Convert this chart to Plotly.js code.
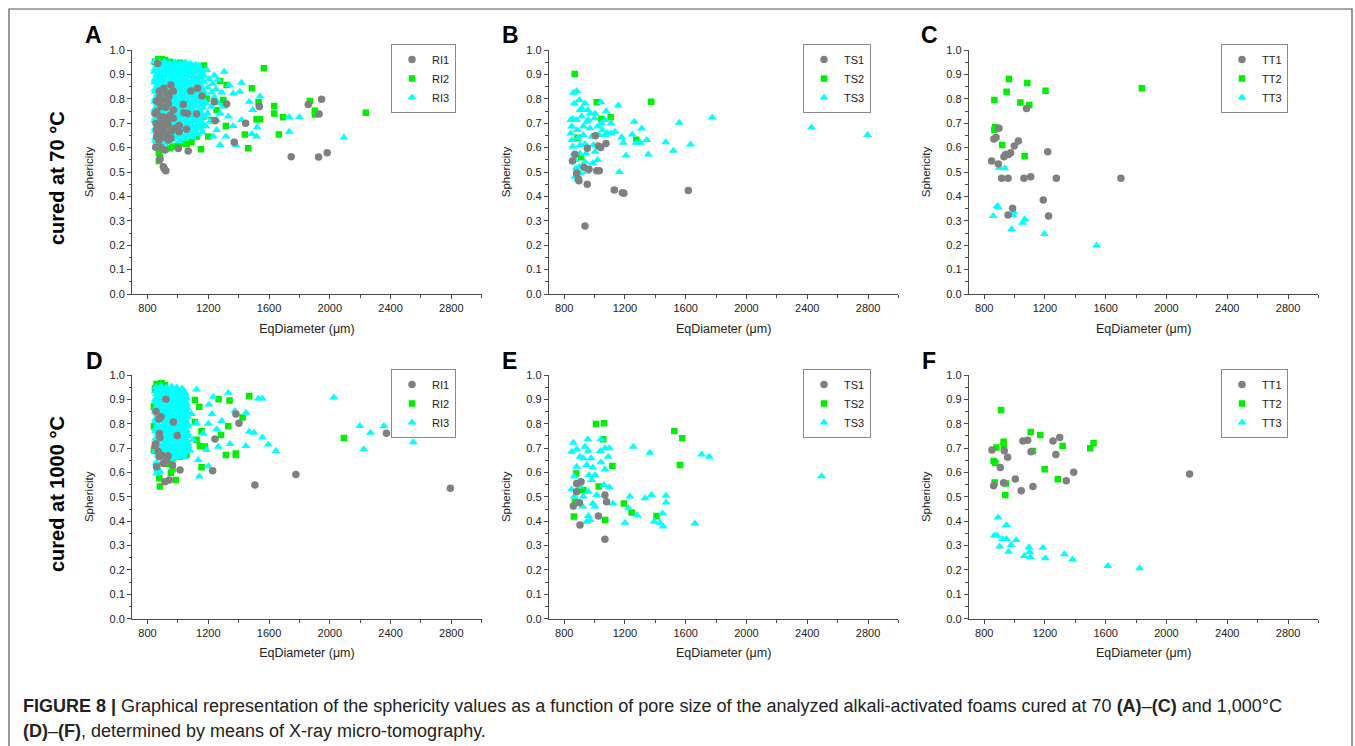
<!DOCTYPE html>
<html>
<head>
<meta charset="utf-8">
<script src="https://cdn.plot.ly/plotly-3.0.1.min.js"></script>
<style>
html,body{margin:0;padding:0;background:#fff;}
#chart{width:1355px;height:746px;}
</style>
</head>
<body>
<div id="chart"></div>
<script>
// ---------- DATA (EqDiameter µm, Sphericity) ----------
// Panel A: RI, cured at 70 °C
const A_RI1 = [[867,0.945],[954,0.857],[970,0.832],[908,0.843],[1086,0.832],[1130,0.843],[1158,0.811],[1036,0.777],[1239,0.788],[1321,0.779],[1536,0.768],[1858,0.777],[1946,0.798],[1930,0.738],[1446,0.700],[1246,0.710],[1123,0.738],[1064,0.740],[1040,0.743],[1009,0.691],[1057,0.675],[1009,0.665],[1003,0.596],[1068,0.586],[1371,0.622],[1746,0.563],[1926,0.561],[1983,0.579],
  [860,0.790],[882,0.809],[878,0.832],[904,0.795],[926,0.825],[941,0.809],[889,0.768],[921,0.765],[937,0.781],[860,0.747],[882,0.727],[908,0.724],[930,0.713],[970,0.754],[856,0.699],[882,0.689],[915,0.686],[937,0.693],[860,0.672],[893,0.661],[926,0.658],[954,0.638],[860,0.645],[904,0.642],[937,0.631],[854,0.601],[886,0.601],[915,0.590],[882,0.552],[904,0.522],[921,0.505],[911,0.512],[864,0.652],[849,0.740],[952,0.734],[970,0.720],[985,0.680],[960,0.668],[897,0.708],[918,0.700],[875,0.630]];
const A_RI2 = [[1566,0.925],[1487,0.843],[1531,0.786],[1634,0.770],[1634,0.740],[1693,0.724],[1869,0.791],[1902,0.751],[1902,0.736],[2237,0.743],[1540,0.716],[1518,0.716],[1441,0.654],[1665,0.654],[1463,0.597],[1316,0.689],[1152,0.593],[1171,0.936],[1277,0.873],[1189,0.801],[1200,0.645],
  [965,0.604],[948,0.597],[992,0.607],[1025,0.617],[1057,0.615],[1090,0.624],[1003,0.652],[1040,0.631],[1123,0.645],[875,0.579],[875,0.545],[882,0.563],[860,0.617],[904,0.628],
  [871,0.962],[893,0.963],[915,0.959],[948,0.952],[981,0.945],[1014,0.948],[849,0.952],[1255,0.754],[1222,0.713],[1299,0.795],[1167,0.727],[1321,0.857],[1145,0.686]];
const A_RI3 = [
  [845,0.952],[878,0.948],[912,0.953],[946,0.947],[980,0.951],[1015,0.945],[1048,0.949],[1082,0.944],[1118,0.940],
  [862,0.941],[895,0.938],[929,0.943],[963,0.937],[997,0.942],[1032,0.936],[1065,0.940],[1100,0.935],[1135,0.938],
  [860,0.932],[893,0.927],[928,0.934],[963,0.929],[998,0.931],[1033,0.926],[1066,0.930],[1100,0.924],[1138,0.928],[1190,0.918],
  [848,0.921],[878,0.918],[912,0.923],[946,0.917],[981,0.922],[1016,0.916],[1050,0.921],[1084,0.915],[1120,0.919],[1155,0.914],
  [846,0.911],[877,0.907],[911,0.913],[947,0.905],[981,0.910],[1016,0.906],[1050,0.912],[1088,0.904],[1122,0.909],[1158,0.902],[1240,0.896],
  [862,0.899],[895,0.896],[929,0.901],[963,0.895],[998,0.900],[1034,0.894],[1069,0.899],[1104,0.893],[1140,0.897],[1175,0.892],
  [862,0.889],[895,0.886],[930,0.892],[965,0.884],[1000,0.890],[1036,0.885],[1070,0.891],[1106,0.883],[1143,0.888],[1205,0.881],[1262,0.878],
  [848,0.879],[880,0.876],[914,0.881],[948,0.875],[983,0.880],[1018,0.874],[1053,0.879],[1089,0.873],[1126,0.877],[1165,0.872],
  [847,0.868],[880,0.872],[914,0.866],[949,0.871],[984,0.865],[1019,0.870],[1054,0.864],[1091,0.869],[1127,0.863],[1164,0.868],[1228,0.861],
  [864,0.859],[897,0.856],[931,0.861],[966,0.855],[1001,0.860],[1037,0.854],[1072,0.859],[1109,0.853],[1146,0.857],
  [864,0.848],[898,0.852],[932,0.846],[967,0.851],[1002,0.845],[1039,0.850],[1074,0.844],[1111,0.849],[1149,0.843],[1196,0.846],[1250,0.840],
  [849,0.839],[882,0.836],[916,0.841],[951,0.835],[986,0.840],[1021,0.834],[1057,0.839],[1093,0.833],[1130,0.837],[1168,0.832],
  [849,0.829],[882,0.826],[917,0.832],[952,0.825],[987,0.830],[1022,0.824],[1057,0.829],[1094,0.823],[1131,0.828],[1170,0.822],[1222,0.826],[1288,0.826],
  [866,0.819],[899,0.816],[933,0.821],[968,0.815],[1003,0.820],[1040,0.814],[1076,0.819],[1114,0.813],[1152,0.817],
  [866,0.809],[900,0.805],[934,0.811],[969,0.804],[1005,0.810],[1041,0.803],[1079,0.808],[1117,0.802],[1154,0.807],[1240,0.805],
  [850,0.799],[884,0.796],[918,0.801],[953,0.795],[989,0.800],[1024,0.794],[1060,0.799],[1097,0.793],[1136,0.797],[1175,0.792],
  [848,0.789],[883,0.786],[919,0.791],[954,0.785],[990,0.790],[1025,0.784],[1061,0.789],[1099,0.783],[1137,0.788],[1182,0.782],[1268,0.781],
  [866,0.779],[900,0.776],[935,0.781],[970,0.775],[1006,0.780],[1042,0.774],[1080,0.779],[1118,0.773],[1156,0.777],
  [867,0.768],[902,0.772],[937,0.766],[972,0.771],[1008,0.765],[1044,0.770],[1081,0.764],[1120,0.769],[1165,0.763],[1220,0.767],
  [849,0.759],[884,0.756],[919,0.761],[954,0.755],[990,0.760],[1026,0.754],[1063,0.759],[1101,0.753],[1140,0.757],
  [850,0.749],[885,0.745],[920,0.751],[955,0.744],[991,0.750],[1027,0.743],[1064,0.748],[1102,0.742],[1141,0.747],[1195,0.741],[1279,0.740],
  [866,0.739],[901,0.736],[936,0.741],[972,0.735],[1008,0.740],[1045,0.734],[1083,0.739],[1122,0.733],[1160,0.737],
  [865,0.729],[900,0.726],[936,0.731],[971,0.725],[1009,0.730],[1045,0.724],[1084,0.729],[1123,0.723],[1175,0.727],
  [849,0.719],[884,0.716],[919,0.721],[954,0.715],[990,0.720],[1027,0.714],[1065,0.719],[1104,0.713],[1144,0.717],
  [848,0.709],[883,0.712],[918,0.706],[953,0.711],[989,0.705],[1026,0.710],[1063,0.704],[1103,0.709],[1145,0.703],[1212,0.707],
  [866,0.699],[900,0.696],[936,0.701],[971,0.695],[1008,0.700],[1045,0.694],[1084,0.699],[1126,0.693],[1166,0.697],
  [864,0.689],[898,0.686],[934,0.691],[969,0.685],[1007,0.690],[1044,0.684],[1083,0.689],[1124,0.683],[1185,0.687],
  [850,0.679],[884,0.676],[920,0.681],[955,0.675],[992,0.680],[1030,0.674],[1068,0.679],[1108,0.673],[1150,0.677],
  [850,0.669],[884,0.672],[920,0.666],[956,0.671],[992,0.665],[1030,0.670],[1068,0.664],[1109,0.669],[1160,0.663],
  [866,0.659],[901,0.656],[937,0.661],[974,0.655],[1012,0.660],[1052,0.654],[1092,0.659],[1130,0.655],
  [866,0.649],[901,0.652],[938,0.646],[975,0.651],[1014,0.645],[1055,0.650],[1097,0.644],
  [852,0.639],[888,0.636],[925,0.641],[963,0.635],[1003,0.640],[1040,0.636],
  [852,0.629],[888,0.633],[925,0.627],[964,0.632],[1009,0.626],[870,0.621],[910,0.618],[945,0.622],[859,0.611],[899,0.607],
  [1305,0.911],[1419,0.866],[1408,0.829],[1470,0.788],[1492,0.754],[1364,0.689],[1316,0.645],[1277,0.611],[1382,0.611],[1487,0.656],[1522,0.683],[1540,0.809],[1733,0.724],[1799,0.724],[1733,0.665],[2093,0.641],[1338,0.857],[1364,0.822],[1299,0.768],[1255,0.713],[1332,0.727],[1255,0.672],[1233,0.645],[1419,0.713],[1518,0.645]];

// Panel B: TS, cured at 70 °C
const B_TS1 = [[854,0.545],[871,0.572],[882,0.495],[893,0.471],[897,0.464],[937,0.279],[952,0.597],[930,0.519],[963,0.511],[952,0.450],[1005,0.649],[1025,0.607],[1040,0.600],[1075,0.617],[1014,0.505],[1031,0.505],[1130,0.426],[1183,0.415],[1193,0.413],[1617,0.424]];
const B_TS2 = [[869,0.902],[1014,0.786],[1044,0.717],[1106,0.724],[1275,0.632],[1373,0.788],[888,0.640],[912,0.560]];
const B_TS3 = [[860,0.825],[882,0.832],[856,0.717],[937,0.781],[955,0.754],[1042,0.786],[1075,0.749],[1156,0.773],[999,0.720],[1068,0.713],[1108,0.699],[1134,0.665],[1178,0.642],[1189,0.620],[1207,0.568],[1163,0.500],[1261,0.706],[1310,0.678],[1248,0.654],[1272,0.620],[1303,0.620],[1343,0.631],[1354,0.572],[1468,0.622],[1518,0.587],[1557,0.702],[1632,0.613],[1775,0.723],[2428,0.682],[2797,0.652],
  [843,0.713],[850,0.686],[843,0.658],[850,0.631],[856,0.604],[864,0.576],[871,0.549],[878,0.515],[871,0.481],[882,0.713],[886,0.672],[893,0.638],[904,0.611],[904,0.576],[900,0.522],[904,0.495],[915,0.727],[926,0.686],[926,0.652],[937,0.615],[944,0.576],[937,0.542],[948,0.501],[959,0.713],[970,0.679],[981,0.645],[992,0.611],[1003,0.583],[988,0.536],[1020,0.549],[1020,0.686],[1031,0.652],[1053,0.672],[1068,0.652],[1108,0.658],[1003,0.740],[904,0.754],[900,0.795],[970,0.740],[948,0.706],[867,0.781],[915,0.760],[890,0.470],[1085,0.660],[1045,0.700]];

// Panel C: TT, cured at 70 °C
const C_TT1 = [[849,0.545],[864,0.635],[878,0.641],[893,0.533],[897,0.679],[915,0.474],[930,0.563],[941,0.572],[959,0.572],[974,0.579],[998,0.607],[1025,0.627],[957,0.474],[957,0.324],[987,0.351],[1062,0.474],[1106,0.481],[1079,0.760],[1189,0.385],[1218,0.583],[1224,0.320],[1275,0.474],[1700,0.474]];
const C_TT2 = [[867,0.795],[871,0.683],[867,0.672],[919,0.611],[948,0.829],[963,0.881],[1038,0.785],[1084,0.865],[1097,0.775],[1066,0.566],[1204,0.833],[1838,0.843]];
const C_TT3 = [[860,0.320],[886,0.361],[892,0.356],[900,0.516],[935,0.515],[981,0.265],[996,0.335],[987,0.324],[1053,0.292],[1066,0.306],[1196,0.246],[1540,0.199]];

// Panel D: RI, cured at 1000 °C
const D_RI1 = [[921,0.900],[856,0.850],[875,0.819],[889,0.829],[970,0.807],[996,0.752],[878,0.760],[882,0.744],[854,0.717],[849,0.709],[878,0.665],[893,0.672],[937,0.669],[965,0.631],[904,0.637],[860,0.624],[1014,0.610],[1229,0.607],[1244,0.737],[1382,0.840],[1402,0.802],[1507,0.549],[1777,0.592],[2373,0.761],[2794,0.535],[915,0.562],[943,0.569],[871,0.686],[926,0.651]];
const D_RI2 = [[882,0.542],[878,0.576],[987,0.569],[954,0.599],[965,0.613],[937,0.635],[860,0.631],[867,0.607],[1112,0.807],[1268,0.900],[1340,0.895],[1470,0.914],[1426,0.826],[1332,0.790],[1284,0.754],[1316,0.672],[1382,0.672],[1382,0.678],[1123,0.734],[1145,0.709],[1178,0.707],[1156,0.769],[1156,0.621],[2093,0.741],[1141,0.870],[1112,0.897],
  [860,0.963],[893,0.966],[915,0.959],[849,0.945],[842,0.870],[842,0.790],[842,0.690],[970,0.658],[1014,0.665],[1057,0.672]];
const D_RI3 = [
  [858,0.951],[890,0.955],[924,0.949],[958,0.953],[992,0.948],[1024,0.944],
  [868,0.941],[900,0.944],[934,0.938],[968,0.943],[1002,0.937],[1034,0.940],
  [850,0.931],[874,0.928],[907,0.934],[941,0.927],[975,0.932],[1009,0.926],[1040,0.930],
  [858,0.921],[890,0.918],[924,0.923],[958,0.917],[992,0.922],[1026,0.916],[1052,0.920],
  [862,0.909],[895,0.913],[929,0.906],[963,0.911],[997,0.905],[1031,0.910],[1058,0.904],
  [852,0.899],[878,0.902],[912,0.896],[946,0.901],[980,0.895],[1014,0.900],[1046,0.894],
  [851,0.889],[880,0.886],[914,0.892],[948,0.885],[982,0.890],[1016,0.884],[1047,0.889],
  [865,0.879],[897,0.876],[931,0.881],[965,0.875],[999,0.880],[1033,0.874],[1060,0.879],
  [866,0.868],[899,0.872],[933,0.866],[967,0.871],[1001,0.865],[1035,0.870],[1062,0.864],
  [851,0.859],[882,0.862],[916,0.856],[950,0.861],[984,0.855],[1018,0.860],[1050,0.854],
  [852,0.849],[884,0.846],[918,0.851],[952,0.845],[986,0.850],[1020,0.844],[1052,0.848],
  [867,0.839],[901,0.836],[935,0.841],[969,0.835],[1003,0.840],[1037,0.834],[1062,0.839],
  [867,0.829],[901,0.826],[935,0.831],[969,0.825],[1003,0.830],[1037,0.824],[1063,0.829],
  [853,0.819],[884,0.822],[918,0.816],[952,0.821],[986,0.815],[1020,0.820],[1052,0.814],
  [853,0.809],[886,0.812],[920,0.806],[954,0.811],[988,0.805],[1022,0.810],[1054,0.804],
  [868,0.799],[902,0.796],[936,0.801],[970,0.795],[1004,0.800],[1038,0.794],[1064,0.799],
  [868,0.789],[902,0.786],[936,0.791],[970,0.785],[1004,0.790],[1038,0.784],[1066,0.789],
  [853,0.779],[886,0.782],[920,0.776],[954,0.781],[988,0.775],[1022,0.780],[1054,0.774],
  [853,0.769],[887,0.772],[921,0.766],[955,0.771],[989,0.765],[1023,0.770],[1056,0.764],
  [869,0.759],[903,0.756],[937,0.761],[971,0.755],[1005,0.760],[1039,0.754],[1066,0.759],
  [869,0.749],[903,0.746],[937,0.751],[971,0.745],[1005,0.750],[1039,0.744],[1067,0.749],
  [854,0.739],[888,0.742],[922,0.736],[956,0.741],[990,0.735],[1024,0.740],[1056,0.734],
  [854,0.729],[888,0.732],[922,0.726],[956,0.731],[990,0.725],[1024,0.730],[1057,0.724],
  [869,0.719],[903,0.716],[937,0.721],[971,0.715],[1005,0.720],[1039,0.714],[1066,0.719],
  [869,0.709],[903,0.706],[937,0.711],[971,0.705],[1005,0.710],[1039,0.704],[1066,0.709],
  [855,0.699],[889,0.702],[923,0.696],[957,0.701],[991,0.695],[1025,0.700],[1056,0.694],
  [855,0.689],[889,0.692],[923,0.686],[957,0.691],[991,0.685],[1025,0.690],[1056,0.684],
  [870,0.679],[904,0.676],[938,0.681],[972,0.675],[1006,0.680],[1040,0.674],
  [870,0.669],[904,0.666],[938,0.671],[972,0.665],[1006,0.670],[1040,0.664],
  [888,0.659],[922,0.662],[956,0.656],[990,0.661],
  [858,0.640],[868,0.615],[880,0.600],[878,0.607],[860,0.596],
  [1123,0.941],[1332,0.927],[1233,0.911],[1529,0.904],[1555,0.904],[2027,0.908],[1204,0.879],[1375,0.852],[1448,0.845],[1288,0.811],[1224,0.840],[1255,0.777],[1200,0.800],[1470,0.767],[1500,0.763],[1557,0.744],[1595,0.715],[1645,0.688],[1448,0.709],[1343,0.717],[1266,0.706],[1189,0.692],[1134,0.651],[1200,0.626],[1141,0.583],[2198,0.791],[2224,0.695],[2268,0.763],[2356,0.791],[2549,0.724],[1123,0.802],[1090,0.840],[1167,0.760],[1101,0.734],[1079,0.690]];

// Panel E: TS, cured at 1000 °C
const E_TS1 = [[860,0.462],[882,0.521],[882,0.555],[911,0.562],[900,0.476],[904,0.384],[1068,0.508],[1079,0.480],[1025,0.421],[1068,0.326]];
const E_TS2 = [[1009,0.799],[1062,0.802],[1057,0.736],[1027,0.542],[1117,0.627],[1193,0.473],[1244,0.436],[1408,0.421],[1070,0.405],[864,0.419],[1525,0.770],[1577,0.740],[1562,0.631],[878,0.596],[897,0.528],[926,0.528],[871,0.480]];
const E_TS3 = [[860,0.722],[849,0.685],[882,0.695],[955,0.736],[937,0.706],[959,0.689],[977,0.658],[988,0.620],[963,0.590],[1042,0.736],[1038,0.688],[1042,0.642],[1068,0.699],[1097,0.699],[1090,0.665],[1068,0.613],[1062,0.549],[1097,0.539],[1121,0.473],[1014,0.508],[988,0.473],[1003,0.460],[959,0.421],[970,0.405],[948,0.398],[922,0.460],[926,0.501],[904,0.542],[849,0.531],[866,0.501],[866,0.583],[882,0.624],[904,0.665],[926,0.658],[948,0.631],[981,0.569],[959,0.521],[1003,0.590],
  [1255,0.706],[1364,0.681],[1375,0.508],[1332,0.494],[1233,0.501],[1224,0.453],[1281,0.425],[1200,0.394],[1393,0.398],[1430,0.394],[1448,0.432],[1452,0.378],[1470,0.477],[1470,0.505],[1660,0.391],[1704,0.674],[1755,0.665],[2494,0.585]];

// Panel F: TT, cured at 1000 °C
const F_TT1 = [[851,0.692],[862,0.546],[906,0.620],[932,0.689],[954,0.662],[928,0.558],[1005,0.573],[1044,0.525],[1055,0.729],[1086,0.732],[1108,0.685],[1121,0.542],[1253,0.729],[1297,0.744],[1272,0.674],[1340,0.566],[1389,0.601],[2152,0.594]];
const F_TT2 = [[911,0.856],[880,0.703],[862,0.647],[873,0.640],[869,0.559],[928,0.726],[928,0.709],[943,0.555],[939,0.508],[1106,0.766],[1121,0.688],[1169,0.754],[1198,0.613],[1285,0.572],[1316,0.709],[1498,0.699],[1520,0.720]];
const F_TT3 = [[891,0.415],[946,0.384],[867,0.341],[884,0.341],[921,0.327],[946,0.327],[902,0.296],[1011,0.323],[978,0.302],[960,0.275],[1064,0.257],[1095,0.293],[1099,0.274],[1104,0.252],[1187,0.291],[1202,0.248],[1327,0.264],[1382,0.243],[1614,0.216],[1823,0.207]];

const xTickVals = [800,1200,1600,2000,2400,2800];
const yTickVals = [0.0,0.1,0.2,0.3,0.4,0.5,0.6,0.7,0.8,0.9,1.0];

// ---------- STYLE ----------
const GREY = '#808080', GREEN = '#00ee00', CYAN = '#00ffff';
const FONT = 'Liberation Sans, Arial, Helvetica, sans-serif';
const AX = '#4a4a4a';

function mk(data, name, symbol, color, size, n, rank) {
  return {
    type: 'scatter', mode: 'markers', name: name,
    x: data.map(p => p[0]), y: data.map(p => p[1]),
    xaxis: n === 1 ? 'x' : 'x' + n, yaxis: n === 1 ? 'y' : 'y' + n,
    legend: n === 1 ? 'legend' : 'legend' + n, legendrank: rank,
    marker: {symbol: symbol, color: color, size: size, line: {width: 0}},
    hoverinfo: 'skip'
  };
}
function panel(n, d1, d2, d3, names) {
  return [
    mk(d2, names[1], 'square', GREEN, 6.5, n, 2),
    mk(d3, names[2], 'triangle-up', CYAN, 8, n, 3),
    mk(d1, names[0], 'circle', GREY, 7.5, n, 1)
  ];
}

const traces = [].concat(
  panel(1, A_RI1, A_RI2, A_RI3, ['RI1','RI2','RI3']),
  panel(2, B_TS1, B_TS2, B_TS3, ['TS1','TS2','TS3']),
  panel(3, C_TT1, C_TT2, C_TT3, ['TT1','TT2','TT3']),
  panel(4, D_RI1, D_RI2, D_RI3, ['RI1','RI2','RI3']),
  panel(5, E_TS1, E_TS2, E_TS3, ['TS1','TS2','TS3']),
  panel(6, F_TT1, F_TT2, F_TT3, ['TT1','TT2','TT3'])
);

const W = 1355, H = 746;
const px = v => v / W, py = v => 1 - v / H;
const colsX = [[132.3, 481.7], [549, 898.4], [969, 1318.4]];
const rowsY = [[50, 294], [375, 618.7]];

function xaxis(col, anchor) {
  return {
    domain: [px(colsX[col][0]), px(colsX[col][1])], anchor: anchor,
    range: [700, 3000], tickvals: xTickVals, ticktext: xTickVals.map(String),
    ticks: 'outside', ticklen: 4, tickwidth: 1.2, tickcolor: AX,
    showline: true, linecolor: AX, linewidth: 1.4, showgrid: false, zeroline: false,
    minor: {tickvals: [1000,1400,1800,2200,2600,3000], ticks: 'outside', ticklen: 3, tickwidth: 1, tickcolor: AX, showgrid: false},
    tickfont: {family: FONT, size: 11, color: '#222'},
    title: {text: 'EqDiameter (μm)', font: {family: FONT, size: 12.5, color: '#222'}, standoff: 10},
    fixedrange: true
  };
}
function yaxis(row, anchor) {
  return {
    domain: [py(rowsY[row][1]), py(rowsY[row][0])], anchor: anchor,
    range: [0, 1], tickvals: yTickVals, ticktext: yTickVals.map(v => v.toFixed(1)),
    ticks: 'outside', ticklen: 4, tickwidth: 1.2, tickcolor: AX,
    showline: true, linecolor: AX, linewidth: 1.4, showgrid: false, zeroline: false,
    minor: {tickvals: [0.05,0.15,0.25,0.35,0.45,0.55,0.65,0.75,0.85,0.95], ticks: 'outside', ticklen: 2.5, tickwidth: 1, tickcolor: AX, showgrid: false},
    tickfont: {family: FONT, size: 11, color: '#222'},
    title: {text: 'Sphericity', font: {family: FONT, size: 11.5, color: '#222'}, standoff: 13},
    fixedrange: true
  };
}
function legend(rightX, topY) {
  return {
    x: px(rightX), y: py(topY), xanchor: 'right', yanchor: 'top',
    bgcolor: '#ffffff', bordercolor: '#8a8a8a', borderwidth: 1,
    font: {family: FONT, size: 11, color: '#222'},
    itemwidth: 30, tracegroupgap: 0, traceorder: 'normal'
  };
}

const layout = {
  width: W, height: H, margin: {l: 0, r: 0, t: 0, b: 0},
  paper_bgcolor: '#ffffff', plot_bgcolor: 'rgba(0,0,0,0)',
  font: {family: FONT, color: '#222'},
  showlegend: true,
  xaxis: xaxis(0, 'y'), yaxis: yaxis(0, 'x'),
  xaxis2: xaxis(1, 'y2'), yaxis2: yaxis(0, 'x2'),
  xaxis3: xaxis(2, 'y3'), yaxis3: yaxis(0, 'x3'),
  xaxis4: xaxis(0, 'y4'), yaxis4: yaxis(1, 'x4'),
  xaxis5: xaxis(1, 'y5'), yaxis5: yaxis(1, 'x5'),
  xaxis6: xaxis(2, 'y6'), yaxis6: yaxis(1, 'x6'),
  legend: legend(456, 44), legend2: legend(871, 44), legend3: legend(1288, 44),
  legend4: legend(456, 369), legend5: legend(871, 369), legend6: legend(1288, 369),
  shapes: [{type: 'rect', xref: 'paper', yref: 'paper', x0: px(9), x1: px(1352), y0: -0.02, y1: py(9),
            line: {color: '#555', width: 1.2}, fillcolor: 'rgba(0,0,0,0)', layer: 'below'}],
  annotations: [
    ...[['A',83,35],['B',500,35],['C',919,35],['D',84,361],['E',500,361],['F',920,361]].map(a => ({
      text: '<b>' + a[0] + '</b>', xref: 'paper', yref: 'paper', x: px(a[1]), y: py(a[2]),
      xanchor: 'left', yanchor: 'middle', showarrow: false, font: {family: FONT, size: 23, color: '#000'}})),
    {text: '<b>cured at 70 °C</b>', xref: 'paper', yref: 'paper', x: px(57), y: py(178), textangle: -90,
     xanchor: 'center', yanchor: 'middle', showarrow: false, font: {family: FONT, size: 20, color: '#000'}},
    {text: '<b>cured at 1000 °C</b>', xref: 'paper', yref: 'paper', x: px(57), y: py(494), textangle: -90,
     xanchor: 'center', yanchor: 'middle', showarrow: false, font: {family: FONT, size: 20, color: '#000'}},
    {text: '<b>FIGURE 8 |</b> Graphical representation of the sphericity values as a function of pore size of the analyzed alkali-activated foams cured at 70 <b>(A)</b>–<b>(C)</b> and 1,000°C',
     xref: 'paper', yref: 'paper', x: px(21), y: py(706), xanchor: 'left', yanchor: 'middle', showarrow: false,
     font: {family: FONT, size: 18, color: '#222'}},
    {text: '<b>(D)</b>–<b>(F)</b>, determined by means of X-ray micro-tomography.',
     xref: 'paper', yref: 'paper', x: px(21), y: py(731), xanchor: 'left', yanchor: 'middle', showarrow: false,
     font: {family: FONT, size: 18, color: '#222'}}
  ]
};

Plotly.newPlot('chart', traces, layout, {displayModeBar: false, responsive: false});
</script>
</body>
</html>
